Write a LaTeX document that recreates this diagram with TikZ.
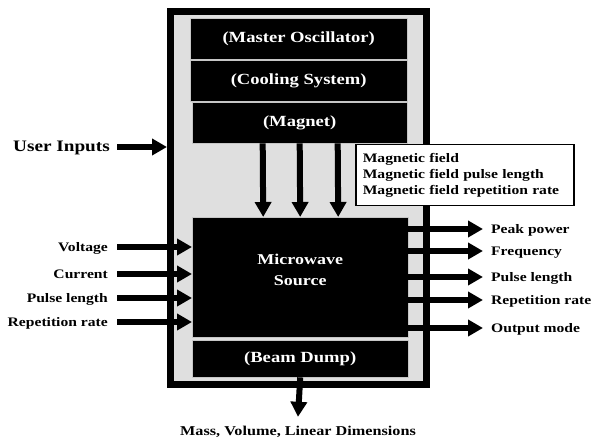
\documentclass[tikz,border=0pt]{standalone}
\usepackage{fontspec}
\setmainfont{Liberation Serif}[FakeStretch=1.2]
\usetikzlibrary{arrows.meta}
\usetikzlibrary{positioning}

\begin{document}
\begin{tikzpicture}[x=1pt,y=-1pt,
	blk/.style={draw=gray!45,fill=black,text=white,font=\bfseries\fontsize{15.5}{18}\selectfont,anchor=north west,minimum width=217pt,minimum height=41pt,inner sep=0pt},
	lbl/.style={font=\bfseries\fontsize{13}{15}\selectfont,inner sep=0pt,text height=10pt,text depth=0pt},
	fat/.style={line width=6pt,-{Triangle[length=15pt,width=16pt]}}]
	\useasboundingbox (0,0) rectangle (592,443);
	\node[draw,line width=7pt,fill=gray!25,minimum width=256pt,minimum height=373pt,inner sep=0pt] (frame) at (298.5,198) {};
	\node[blk] (osc) at (190,18) {(Master Oscillator)};
	\node[blk] (cool) at (190,60) {(Cooling System)};
	\node[blk,minimum width=215pt] (mag) at (192,102) {(Magnet)};
	\node[blk,minimum width=216pt,minimum height=120pt] (mw) at (192,217) {};
	\node[white,font=\bfseries\fontsize{15}{21}\selectfont,align=center] (mwt) at ([yshift=7pt]mw.center) {Microwave\\Source};
	\node[blk,minimum width=216pt,minimum height=37pt] (dump) at (192,340) {(Beam Dump)};
	\node[draw,line width=1.5pt,fill=white,anchor=north west,align=left,font=\bfseries\fontsize{13}{16}\selectfont,inner xsep=7pt,inner ysep=0pt,text width=204pt,minimum height=61pt] (field) at (355,144) {Magnetic field\\Magnetic field pulse length\\Magnetic field repetition rate};
	\foreach \dx in {-37,0,38}
		\draw[fat] ([xshift=\dx pt]mag.south) -- ([xshift=\dx pt]mw.north);
	\node[lbl,anchor=east,font=\bfseries\fontsize{16}{18}\selectfont] (user) at (110,147) {User Inputs};
	\draw[fat] ([xshift=7pt]user.east) -- (frame.west |- user.east);
	\foreach \t/\y [count=\i] in {Voltage/247,Current/274,Pulse length/298,Repetition rate/322} {
		\node[lbl,anchor=east] (in\i) at (108,\y) {\t};
		\draw[fat] ([xshift=9pt]in\i.east) -- (mw.west |- in\i.east);
	}
	\foreach \t/\y [count=\i] in {Peak power/229,Frequency/251,Pulse length/277,Repetition rate/300,Output mode/328} {
		\node[lbl,anchor=west] (out\i) at (491,\y) {\t};
		\draw[fat] (mw.east |- out\i.west) -- ([xshift=-8pt]out\i.west);
	}
	\node[lbl,font=\bfseries\fontsize{13.5}{15}\selectfont] (dims) at (298,431) {Mass, Volume, Linear Dimensions};
	\draw[fat] (dump.south) -- ([yshift=9pt]dims.north);
\end{tikzpicture}
\end{document}
